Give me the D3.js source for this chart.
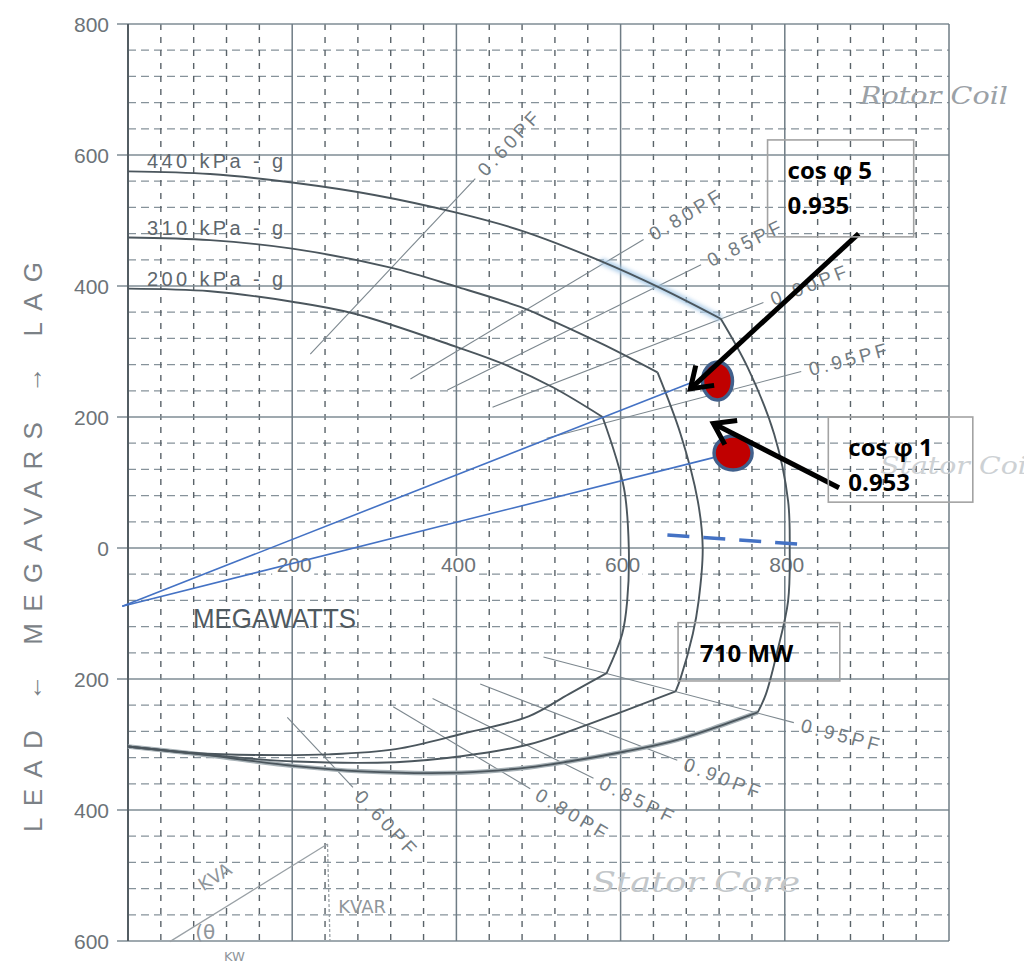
<!DOCTYPE html>
<html>
<head>
<meta charset="utf-8">
<script src="https://cdn.jsdelivr.net/npm/d3@7/dist/d3.min.js"></script>
<style>
  html, body { margin: 0; padding: 0; background: #fff; }
  svg { display: block; }
</style>
</head>
<body>
<script>
// ---- Axes -------------------------------------------------------------
const mwDomain = [0, 1000];
const mvarDomain = [-600, 800];
const mwMajor = [0, 200, 400, 600, 800, 1000];
const mvarMajor = [-600, -400, -200, 0, 200, 400, 600, 800];
const mwTickLabels = [200, 400, 600, 800];
const mvarTickLabels = [800, 600, 400, 200, 0, -200, -400, -600];
const minorStep = 40;

// ---- Capability limits per hydrogen pressure: [MW, MVAR] ----------------
const pressureLabels = ["440 kPa - g", "310 kPa - g", "200 kPa - g"];

const field440 = [[0,575],[100,571],[200,558],[300,539],[400,512],[478,485],[576,438],[650,396],[722,350]];
const arm440   = [[722,350],[755,275],[787,174],[804,72],[806,0],[804,-81],[791,-157],[777,-223],[767,-251]];
const under440 = [[767,-251],[713,-275],[660,-296],[604,-311],[537,-326],[488,-335],[406,-343],[284,-341],[204,-333],[82,-314],[0,-303]];

const field310 = [[0,474],[100,470],[200,457],[320,428],[400,399],[478,368],[515,348],[580,310],[645,268]];
const arm310   = [[645,268],[673,174],[694,72],[700,0],[695,-81],[688,-131],[673,-199],[667,-219]];
const under310 = [[667,-219],[604,-249],[537,-280],[488,-300],[406,-318],[326,-327],[204,-326],[100,-316],[0,-303]];

const field200 = [[0,396],[100,392],[200,376],[275,358],[400,307],[457,281],[518,245],[578,200]];
const arm200   = [[578,200],[604,92],[610,0],[608,-81],[602,-131],[583,-191]];
const under200 = [[583,-191],[537,-223],[488,-257],[406,-284],[326,-307],[244,-315],[160,-316],[82,-313],[0,-303]];

// ---- Power-factor rays (MW extent of each drawn segment) ----------------
const pfValues  = [0.60, 0.80, 0.85, 0.90, 0.95];
const pfLabels  = ["0.60PF", "0.80PF", "0.85PF", "0.90PF", "0.95PF"];
const lagInner  = [222, 344, 389, 444, 510];
const lagOuter  = [423, 628, 698, 774, 820];
const leadInner = [194, 323, 371, 429, 506];
const leadOuter = [274, 490, 567, 669, 811];

// ---- Operating points and annotations -----------------------------------
const rayOrigin = [-7, -89];
const opPoints  = [[718, 255], [737, 145]];
const rayEnds   = [[685, 252], [713, 138]];
const dotRadii  = [[15, 19], [19, 17]];
const mwMarker  = [[657, 20], [829, 5]];
const arrows    = [[[890, 480], [685, 243]], [[866, 92], [713, 190]]];
const boxes     = [[779, 957, 623, 475], [853, 1029, 200, 70], [670, 867, -114, -203]];
const boxLines  = [["cos \u03c6 5", "0.935"], ["cos \u03c6 1", "0.953"], ["710 MW"]];

// ---- Hand sketch in the lower-left corner --------------------------------
const sketchHyp  = [[51, -601], [243, -452]];
const sketchVert = [[243, -452], [246, -600]];

const W = 1024, H = 963;
const x = d3.scaleLinear().domain(mwDomain).range([128, 949]);
const y = d3.scaleLinear().domain(mvarDomain).range([941, 24]);

const svg = d3.select("body").append("svg").attr("width", W).attr("height", H)
  .style("font-family", "'Liberation Sans', Arial, sans-serif");

const defs = svg.append("defs");
defs.append("filter").attr("id", "glow").append("feGaussianBlur").attr("stdDeviation", 2.2);
defs.append("filter").attr("id", "soft").append("feGaussianBlur").attr("stdDeviation", 0.45);

// ---- Grid -----------------------------------------------------------------
const grid = svg.append("g");
const minorMw = d3.range(mwDomain[0], mwDomain[1] + 1, minorStep).filter(v => !mwMajor.includes(v));
const minorMvar = d3.range(mvarDomain[0], mvarDomain[1] + 1, minorStep).filter(v => !mvarMajor.includes(v));

grid.selectAll(".hminor").data(minorMvar).join("line")
  .attr("x1", x(0)).attr("x2", x(1000)).attr("y1", d => y(d)).attr("y2", d => y(d))
  .attr("stroke", "#86929a").attr("stroke-width", 1.2).attr("stroke-dasharray", "8,5");
grid.selectAll(".vminor").data(minorMw).join("line")
  .attr("y1", y(800)).attr("y2", y(-600)).attr("x1", d => x(d)).attr("x2", d => x(d))
  .attr("stroke", "#5a6369").attr("stroke-width", 1.4).attr("stroke-dasharray", "6,7");
grid.selectAll(".hmajor").data(mvarMajor).join("line")
  .attr("x1", x(0) - 11).attr("x2", x(1000)).attr("y1", d => y(d)).attr("y2", d => y(d))
  .attr("stroke", "#7f8c95").attr("stroke-width", 1.4);
grid.selectAll(".vmajor").data(mwMajor).join("line")
  .attr("y1", y(800)).attr("y2", y(-600)).attr("x1", d => x(d)).attr("x2", d => x(d))
  .attr("stroke", d => (d === 0 ? "#535d63" : "#6f7c85")).attr("stroke-width", d => (d === 0 ? 2 : 1.5));

// MVAR tick labels (lead side printed as magnitudes)
svg.append("g").selectAll("text").data(mvarTickLabels).join("text")
  .attr("x", 109).attr("y", d => y(d) + 8).attr("text-anchor", "end")
  .attr("font-size", 21).attr("fill", "#6c7378").text(d => Math.abs(d));

// MW tick labels sitting on the zero line
const mwLab = svg.append("g").selectAll("g").data(mwTickLabels).join("g");
mwLab.append("rect").attr("x", d => x(d) - 20).attr("y", y(0) + 8).attr("width", 42).attr("height", 20).attr("fill", "#fff");
mwLab.append("text").attr("x", d => x(d) + 2).attr("y", y(0) + 24).attr("text-anchor", "middle")
  .attr("font-size", 21).attr("fill", "#6c7378").text(d => d);

// ---- Power-factor rays --------------------------------------------------
const pfG = svg.append("g");
pfValues.forEach((pf, i) => {
  const t = Math.tan(Math.acos(pf));
  [[lagInner[i], lagOuter[i], 1], [leadInner[i], leadOuter[i], -1]].forEach(([p0, p1, s]) => {
    const ax = x(p0), ay = y(s * p0 * t), bx = x(p1), by = y(s * p1 * t);
    pfG.append("line").attr("x1", ax).attr("y1", ay).attr("x2", bx).attr("y2", by)
      .attr("stroke", "#7c878e").attr("stroke-width", 1.1);
    const ang = Math.atan2(by - ay, bx - ax);
    const lx = bx + Math.cos(ang) * 8, ly = by + Math.sin(ang) * 8;
    pfG.append("text")
      .attr("transform", `translate(${lx},${ly}) rotate(${ang * 180 / Math.PI})`)
      .attr("dy", "0.36em").attr("font-size", 19).attr("fill", "#737c82")
      .attr("textLength", 80).attr("lengthAdjust", "spacing")
      .text(pfLabels[i]);
  });
});

// ---- Capability curves -----------------------------------------------------
const line = d3.line().x(d => x(d[0])).y(d => y(d[1])).curve(d3.curveCatmullRom.alpha(0.5));
const curveG = svg.append("g").attr("fill", "none");

// faint bluish bloom on the outer field limit
curveG.append("path").datum(field440.filter(d => d[0] >= 500))
  .attr("d", line).attr("stroke", "#a9cbe8").attr("stroke-width", 6).attr("filter", "url(#glow)");
curveG.append("path").datum(under440)
  .attr("d", line).attr("stroke", "#a7b1b6").attr("stroke-width", 4.5).attr("filter", "url(#soft)");

[[field440, arm440, under440], [field310, arm310, under310], [field200, arm200, under200]].forEach(segs => {
  segs.forEach(seg => {
    curveG.append("path").datum(seg).attr("d", line)
      .attr("stroke", "#4b565d").attr("stroke-width", 1.9).attr("stroke-linejoin", "round");
  });
});

// pressure labels at the start of each field limit
[field440, field310, field200].forEach((f, i) => {
  svg.append("text").attr("x", x(0) + 19).attr("y", y(f[0][1]) - 3)
    .attr("font-size", 20).attr("fill", "#5e676d")
    .attr("textLength", 136).attr("lengthAdjust", "spacing")
    .text(pressureLabels[i]);
});

// axis titles
svg.append("text").attr("x", 193).attr("y", 628)
  .attr("font-size", 28).attr("fill", "#4f595f")
  .attr("textLength", 163).attr("lengthAdjust", "spacingAndGlyphs").text("MEGAWATTS");
svg.append("text").attr("transform", "translate(42,547) rotate(-90)")
  .attr("text-anchor", "middle").attr("font-size", 26).attr("fill", "#7b8186")
  .attr("textLength", 570).attr("lengthAdjust", "spacing")
  .text("LEAD \u2190 MEGAVARS \u2192 LAG");

// ---- Handwritten notes --------------------------------------------------------
const hand = svg.append("g").attr("font-family", "'DejaVu Serif', serif").attr("font-style", "italic");
hand.append("text").attr("x", 860).attr("y", 104).attr("font-size", 24).attr("fill", "#9ba1a6")
  .attr("textLength", 148).attr("lengthAdjust", "spacingAndGlyphs").text("Rotor Coil");
hand.append("text").attr("x", 880).attr("y", 474).attr("font-size", 24).attr("fill", "#cdd1d4")
  .attr("textLength", 156).attr("lengthAdjust", "spacingAndGlyphs").text("Stator Coil");
hand.append("text").attr("x", 592).attr("y", 892).attr("font-size", 28).attr("fill", "#c3c7ca")
  .attr("textLength", 208).attr("lengthAdjust", "spacingAndGlyphs").text("Stator Core");

const sk = svg.append("g").attr("stroke", "#9aa1a6").attr("fill", "none").attr("stroke-width", 1.3);
sk.append("path").datum(sketchHyp).attr("d", d3.line().x(d => x(d[0])).y(d => y(d[1])));
sk.append("path").datum(sketchVert).attr("d", d3.line().x(d => x(d[0])).y(d => y(d[1])))
  .attr("stroke-dasharray", "3,2");
const skT = svg.append("g").attr("fill", "#8f969b").attr("font-size", 18).attr("font-family", "'DejaVu Sans', sans-serif");
skT.append("text").attr("transform", `translate(${x(110)},${y(-510)}) rotate(-32)`).attr("text-anchor", "middle").text("KVA");
skT.append("text").attr("x", x(256)).attr("y", y(-558)).text("KVAR");
skT.append("text").attr("x", x(82)).attr("y", y(-600) - 2).attr("font-size", 20).text("(\u03b8");
skT.append("text").attr("x", x(117)).attr("y", y(-630)).attr("font-size", 13).text("KW");

// ---- Operating-point rays, markers, arrows and boxes ---------------------------
const ann = svg.append("g");
rayEnds.forEach(e => {
  ann.append("line").attr("x1", x(rayOrigin[0])).attr("y1", y(rayOrigin[1]))
    .attr("x2", x(e[0])).attr("y2", y(e[1])).attr("stroke", "#4472c4").attr("stroke-width", 1.6);
});
ann.append("line").attr("x1", x(mwMarker[0][0])).attr("y1", y(mwMarker[0][1]))
  .attr("x2", x(mwMarker[1][0])).attr("y2", y(mwMarker[1][1]))
  .attr("stroke", "#4472c4").attr("stroke-width", 3.5).attr("stroke-dasharray", "22,14");

ann.selectAll("ellipse").data(opPoints).join("ellipse")
  .attr("cx", d => x(d[0])).attr("cy", d => y(d[1]))
  .attr("rx", (d, i) => dotRadii[i][0]).attr("ry", (d, i) => dotRadii[i][1])
  .attr("fill", "#c00000").attr("stroke", "#41608c").attr("stroke-width", 3.5);

arrows.forEach(([s, e]) => {
  const sx = x(s[0]), sy = y(s[1]), ex = x(e[0]), ey = y(e[1]);
  const ang = Math.atan2(sy - ey, sx - ex);
  const L = 24, spread = 0.6;
  ann.append("line").attr("x1", sx).attr("y1", sy).attr("x2", ex).attr("y2", ey)
    .attr("stroke", "#000").attr("stroke-width", 5);
  const a1 = [ex + L * Math.cos(ang + spread), ey + L * Math.sin(ang + spread)];
  const a2 = [ex + L * Math.cos(ang - spread), ey + L * Math.sin(ang - spread)];
  ann.append("path").attr("d", `M${a1[0]},${a1[1]}L${ex},${ey}L${a2[0]},${a2[1]}`)
    .attr("fill", "none").attr("stroke", "#000").attr("stroke-width", 5).attr("stroke-linejoin", "miter");
});

boxes.forEach((b, i) => {
  const bx = x(b[0]), by = y(b[2]);
  ann.append("rect").attr("x", bx).attr("y", by)
    .attr("width", x(b[1]) - bx).attr("height", y(b[3]) - by)
    .attr("fill", "none").attr("stroke", "#a3a3a3").attr("stroke-width", 1.6);
  boxLines[i].forEach((t, j) => {
    ann.append("text").attr("x", bx + (i === 2 ? 22 : 20)).attr("y", by + 39 + j * 35)
      .attr("font-family", "'Open Sans', sans-serif").attr("font-weight", 700)
      .attr("font-size", 24).attr("fill", "#000").text(t);
  });
});
</script>
</body>
</html>
